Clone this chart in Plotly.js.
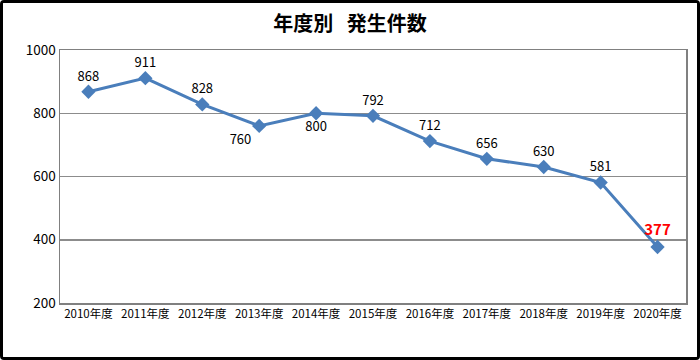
<!DOCTYPE html>
<html><head><meta charset="utf-8">
<script src="https://cdn.plot.ly/plotly-3.0.1.min.js"></script>
<style>
html,body{margin:0;padding:0;background:#fff;}
#wrap{width:700px;height:360px;box-sizing:border-box;border:3px solid #000;border-radius:4px;overflow:hidden;}
#chart{width:694px;height:354px;}
</style></head><body>
<div id="wrap"><div id="chart"></div></div>
<script>
const years = ["2010年度","2011年度","2012年度","2013年度","2014年度","2015年度","2016年度","2017年度","2018年度","2019年度","2020年度"];
const counts = [868, 911, 828, 760, 800, 792, 712, 656, 630, 581, 377];
const labelTexts = ["868","911","828","760","800","792","712","656","630","581","<b>377</b>"];
const labelPositions = ["top center","top center","top center","bottom left","bottom center","top center","top center","top center","top center","top center","top center"];
const labelColors = ["#000","#000","#000","#000","#000","#000","#000","#000","#000","#000","#ff0000"];
const labelSizes = [13,13,13,13,13,13,13,13,13,13,15];

const font = "'Noto Sans CJK JP', 'Noto Sans', sans-serif";
Plotly.newPlot("chart", [{
  x: years, y: counts, type: "scatter", mode: "lines+markers+text",
  text: labelTexts, textposition: labelPositions,
  textfont: {family: font, size: labelSizes, color: labelColors},
  line: {color: "#4a7ebb", width: 3},
  marker: {symbol: "diamond", size: 11, color: "#4a7ebb"},
  cliponaxis: false, hoverinfo: "none"
}], {
  width: 694, height: 354,
  margin: {l: 57, r: 11, t: 47, b: 54},
  paper_bgcolor: "#fff", plot_bgcolor: "#fff",
  showlegend: false,
  title: {text: "<b>年度別&nbsp;&nbsp;&nbsp;発生件数</b>", font: {family: font, size: 20, color: "#000"}, x: 0.5, xanchor: "center", y: 0.96, yanchor: "top"},
  xaxis: {type: "category", showgrid: false, showline: true, mirror: true, linecolor: "#808080", linewidth: 1.5,
          ticks: "", tickfont: {family: font, size: 11.5, color: "#000"}, range: [-0.5, 10.5], fixedrange: true},
  yaxis: {range: [200, 1000], tickvals: [200,400,600,800,1000], showgrid: true, gridcolor: "#8c8c8c", gridwidth: 1.5,
          showline: true, mirror: true, linecolor: "#808080", linewidth: 1.5, zeroline: false,
          ticks: "", ticklen: 0, tickfont: {family: font, size: 13.5, color: "#000"}, fixedrange: true}
}, {staticPlot: true});
</script>
</body></html>
